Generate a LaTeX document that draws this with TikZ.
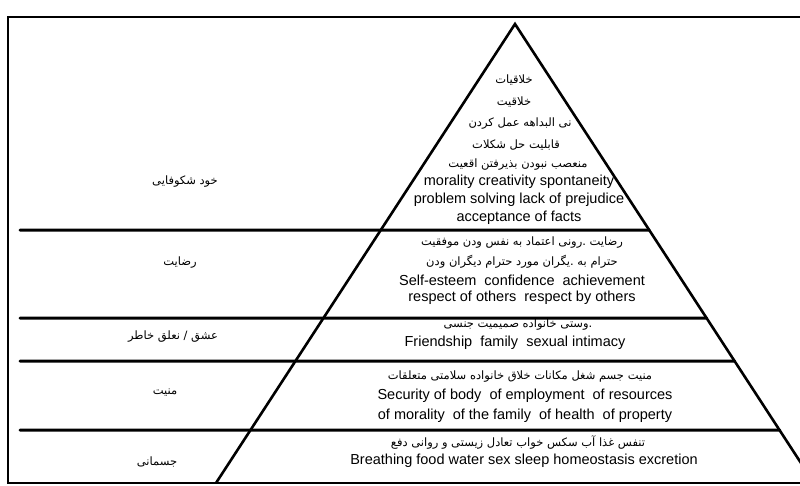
\documentclass[tikz,border=0pt]{standalone}
\usepackage{fontspec}
\setmainfont{Liberation Sans}
\newfontfamily\farsifont[Script=Arabic]{DejaVu Sans}
\TeXXeTstate=1
\newcommand{\fa}[1]{{\farsifont\beginR #1\endR}}

\tikzset{
  entext/.style={inner sep=0pt, font=\fontsize{14.5}{15}\selectfont},
  fatext/.style={inner sep=0pt, font=\fontsize{11.5}{12}\selectfont},
  falabel/.style={inner sep=0pt, font=\fontsize{11.5}{12}\selectfont},
  levelline/.style={line width=3pt, line cap=round},
  frameline/.style={line width=2pt},
  pyramidline/.style={line width=2.6pt, line join=miter}
}

\begin{document}
\begin{tikzpicture}[x=1pt,y=-1pt]
\useasboundingbox (0,0) rectangle (800,485);

% frame
\draw[frameline] (8,17) rectangle (830,483);

% pyramid
\coordinate (apex) at (515,24);
\coordinate (bl) at (216,483);
\coordinate (br) at (814,483);
\draw[pyramidline] (bl) -- (apex) -- (br);

% level lines
\foreach \y [count=\i] in {230,318,361,430}{
  \coordinate (l\i) at (20,\y);
  \coordinate (r\i) at (900,\y);
  \draw[levelline] (l\i) -- (intersection of apex--br and l\i--r\i);
}

% self-actualization
\node[falabel] (selfact) at (185,182) {\fa{خود شکوفایی}};
\node[fatext] (fa11) at (514,80) {\fa{خلاقیات}};
\node[fatext] (fa12) at (514,102) {\fa{خلاقیت}};
\node[fatext] (fa13) at (520,124) {\fa{نی البداهه عمل کردن}};
\node[fatext] (fa14) at (516,145) {\fa{قابلیت حل شکلات}};
\node[fatext] (fa15) at (518,165) {\fa{منعصب نبودن  بذیرفتن  اقعیت}};
\node[entext] (en11) at (519,182) {morality creativity spontaneity};
\node[entext] (en12) at (519,200) {problem solving lack of prejudice};
\node[entext] (en13) at (519,218) {acceptance of facts};

% esteem
\node[falabel] (esteem) at (180,263) {\fa{رضایت}};
\node[fatext] (fa21) at (522,243) {\fa{رضایت .رونی اعتماد به نفس  ودن موفقیت}};
\node[fatext] (fa22) at (522,262) {\fa{حترام به .یگران مورد حترام دیگران  ودن}};
\node[entext] (en21) at (522,280) {Self-esteem\ \ confidence\ \ achievement};
\node[entext] (en22) at (522,298) {respect of others\ \ respect by others};

% love / belonging
\node[falabel] (love) at (173,337) {\fa{عشق / نعلق خاطر}};
\node[fatext] (fa31) at (518,325) {\fa{.وستی خانواده صمیمیت جنسی}};
\node[entext] (en31) at (515,343) {Friendship\ \ family\ \ sexual intimacy};

% safety
\node[falabel] (safety) at (165,393) {\fa{منیت}};
\node[fatext] (fa41) at (520,377) {\fa{منیت جسم شغل مکانات  خلاق  خانواده  سلامتی  متعلقات}};
\node[entext] (en41) at (525,396) {Security of body\ \ of employment\ \ of resources};
\node[entext] (en42) at (525,416) {of morality\ \ of the family\ \ of health\ \ of property};

% physiological
\node[falabel] (physio) at (157,462) {\fa{جسمانی}};
\node[fatext] (fa51) at (518,442) {\fa{تنفس غذا آب سکس خواب تعادل زیستی و روانی دفع}};
\node[entext] (en51) at (524,461) {Breathing food water sex sleep homeostasis excretion};

\end{tikzpicture}
\end{document}
